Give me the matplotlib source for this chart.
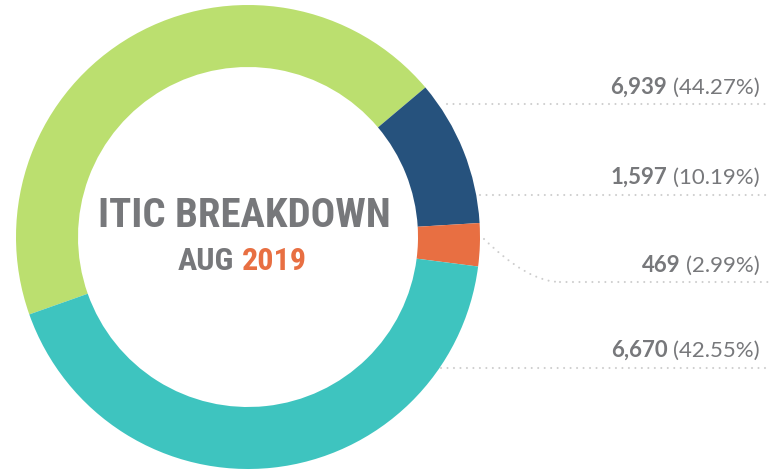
import matplotlib
matplotlib.use('Agg')
import matplotlib.pyplot as plt
from matplotlib.path import Path
from matplotlib.patches import PathPatch
from matplotlib import font_manager as fm

# ── Data ────────────────────────────────────────────────────────────────────
COUNTS = [6939, 1597, 469, 6670]
PCTS = ['44.27%', '10.19%', '2.99%', '42.55%']
COLORS = ['#BBDF6F', '#26527D', '#E86F42', '#3EC4BF']
TITLE = 'ITIC BREAKDOWN'
SUB_MONTH = 'AUG'
SUB_YEAR = '2019'

GREY = '#77787B'
DOT = '#CDCDCD'
W, H = 769, 473

# pick a narrow face for the centre title if one is installed
names = {f.name for f in fm.fontManager.ttflist}
NARROW = [n for n in ['Liberation Sans Narrow', 'Roboto Condensed', 'Open Sans Condensed']
          if n in names] + ['DejaVu Sans']
LABEL_FONT = ['Lato', 'DejaVu Sans']

fig = plt.figure(figsize=(W / 100, H / 100), dpi=100)
ax = fig.add_axes([0, 0, 1, 1])

# ring: clockwise from the green slice, orange sits roughly at 3 o'clock
ax.pie(COUNTS, colors=COLORS, radius=232, center=(248, H - 237),
       startangle=199.5, counterclock=False,
       wedgeprops=dict(width=62, linewidth=0))
ax.set_xlim(0, W)
ax.set_ylim(0, H)
ax.set_aspect('auto')
ax.axis('off')

renderer = fig.canvas.get_renderer()


def fit_size(s, width, **kw):
    """Font size at which s spans `width` pixels."""
    t = ax.text(0, 0, s, fontsize=40, **kw)
    w = t.get_window_extent(renderer).width
    t.remove()
    return 40 * width / w


# ── centre title ────────────────────────────────────────────────────────────
title_kw = dict(va='baseline', family=NARROW, fontweight='bold', fontstretch='condensed')
ax.text(244, H - 227, TITLE, ha='center', color=GREY,
        fontsize=fit_size(TITLE, 292, **title_kw), **title_kw)
sub_fs = fit_size(f'{SUB_MONTH} {SUB_YEAR}', 129, **title_kw)
ax.text(178, H - 270, SUB_MONTH, ha='left', color=GREY, fontsize=sub_fs, **title_kw)
ax.text(307, H - 270, SUB_YEAR, ha='right', color=COLORS[2], fontsize=sub_fs, **title_kw)

# ── right-hand labels ───────────────────────────────────────────────────────
LABEL_BASE = [94, 184, 272, 357]
LINE_Y = [104, 195, 282, 368]
LINE_X0 = [447, 480, 560, 441]
dot_kw = dict(color=DOT, lw=1.5, linestyle=(0, (0.01, 3.1)), dash_capstyle='round')

for n, p, yb, ly, lx in zip(COUNTS, PCTS, LABEL_BASE, LINE_Y, LINE_X0):
    t = ax.text(760, H - yb, f'({p})', ha='right', va='baseline', fontsize=16,
                color=GREY, family=LABEL_FONT, fontweight='normal')
    bb = t.get_window_extent(renderer)
    ax.text(bb.x0 - 6, H - yb, f'{n:,}', ha='right', va='baseline', fontsize=16,
            color=GREY, family=LABEL_FONT, fontweight='bold')
    ax.plot([lx, W], [H - ly, H - ly], **dot_kw)

# curved leader from the small orange slice
curve = Path([(484, H - 239), (528, H - 282), (560, H - 282)],
             [Path.MOVETO, Path.CURVE3, Path.CURVE3])
ax.add_patch(PathPatch(curve, fill=False, edgecolor=DOT, lw=1.5,
                       linestyle=(0, (0.01, 3.1)), capstyle='round'))

fig.savefig('out.png', dpi=100, facecolor='white')
